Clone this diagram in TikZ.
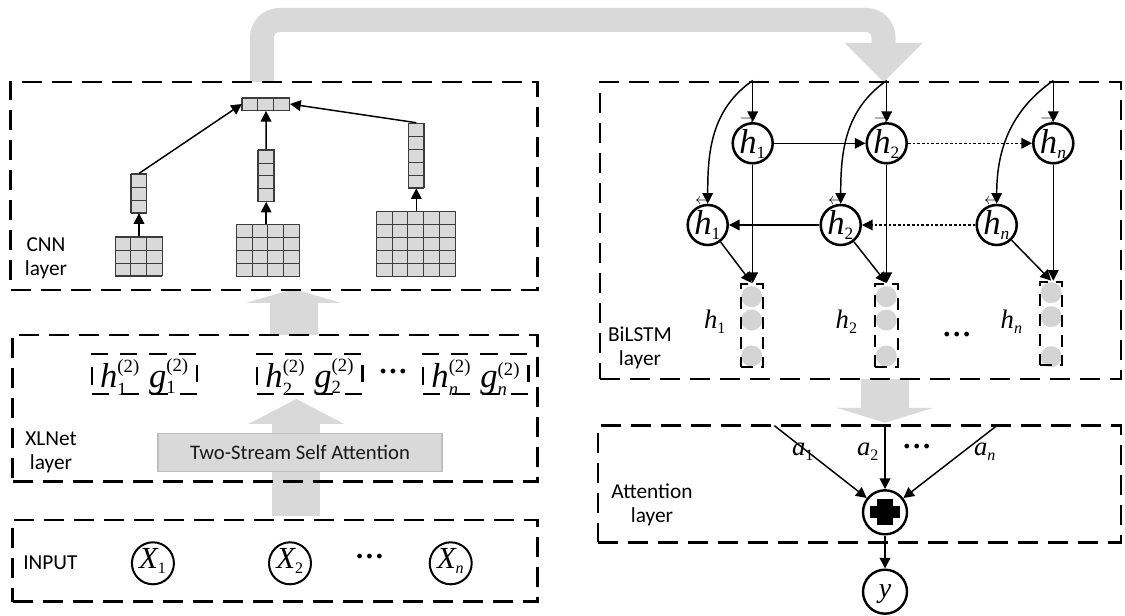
\documentclass[tikz,border=0pt]{standalone}
\usepackage{amsmath}
\usepackage{fontspec}
\setmainfont{Liberation Serif}
\newfontfamily\labfont{Carlito}
\usetikzlibrary{arrows.meta,calc,fit}

\definecolor{bandgray}{RGB}{217,217,217}
\definecolor{cellfill}{RGB}{217,217,217}
\definecolor{celledge}{RGB}{60,60,60}
\definecolor{tsaedge}{RGB}{190,190,190}
\definecolor{dotgray}{RGB}{212,212,212}

% italic variable letter in the serif text face
\newcommand\mvar[1]{\text{\itshape #1}}
% script text at a fixed size
\newcommand\scrsz[2]{\text{\fontsize{#1}{#1}\selectfont #2}}
% zero-size box, lowered by #1, so that a label does not enlarge its node
\newcommand\centred[2]{\raisebox{#1}[0pt][0pt]{\makebox[0pt]{#2}}}
\newcommand\fwdh[1]{\overset{\scriptscriptstyle\rightarrow}{\mvar{h}}_{#1}}
\newcommand\bwdh[1]{\overset{\scriptscriptstyle\leftarrow}{\mvar{h}}_{#1}}

% a block of grey cells: name, centre x, centre y, columns, rows
\newcommand\cellblock[5]{%
  \node[cellbox, minimum width=#4*11.8pt, minimum height=#5*9.7pt] (#1) at (#2,#3) {};
  \draw[celledge, line width=0.7pt, xstep=11.8pt, ystep=9.7pt, shift={(#1.south west)}]
    (0,0) grid (#4*11.8pt+0.1pt, #5*9.7pt+0.1pt);
}
% wide grey arrow: centre x, tail y, head base y, tip y
\newcommand\blockarrow[4]{%
  \fill[bandgray] ({#1-24},#2) rectangle ({#1+24},#3);
  \fill[bandgray] ({#1-48},#3) -- ({#1+48},#3) -- (#1,#4) -- cycle;
}

\begin{document}
\begin{tikzpicture}[x=0.75pt,y=-0.75pt,
  layerbox/.style={draw, line width=2.2pt, dash pattern=on 15pt off 7.5pt, inner sep=0pt},
  hgbox/.style={draw, line width=1.8pt, dash pattern=on 13pt off 9pt, inner sep=0pt,
    minimum width=79pt, minimum height=30pt, font=\fontsize{26pt}{28pt}\selectfont},
  colbox/.style={draw, line width=1.5pt, dash pattern=on 9pt off 6pt, inner sep=0pt},
  cellbox/.style={draw=celledge, fill=cellfill, line width=0.7pt, inner sep=0pt},
  lab/.style={font=\labfont\fontsize{16pt}{18pt}\selectfont, align=center, inner sep=0pt},
  hcirc/.style={circle, draw, line width=1.9pt, minimum size=30pt, inner sep=0pt,
    font=\fontsize{26pt}{28pt}\selectfont},
  xcirc/.style={circle, draw, line width=1.5pt, minimum size=31.5pt, inner sep=0pt,
    font=\fontsize{23pt}{25pt}\selectfont},
  ocirc/.style={circle, draw, line width=1.8pt, minimum size=33pt, inner sep=0pt,
    font=\fontsize{21pt}{23pt}\selectfont},
  dotcirc/.style={circle, fill=dotgray, minimum size=15.75pt, inner sep=0pt},
  mlab/.style={inner sep=0pt, font=\fontsize{20pt}{22pt}\selectfont},
  dots/.style={inner sep=0pt, font=\fontsize{22pt}{24pt}\selectfont\bfseries},
  arr/.style={line width=1.1pt, -{Triangle[length=8pt,width=8pt]}},
  dotarr/.style={arr, line width=1pt, dash pattern=on 2pt off 1.5pt},
  band/.style={draw=bandgray, line width=18pt, rounded corners=13pt},
]
\useasboundingbox (0,0) rectangle (1125,616);

% ---------- grey flow arrows ----------
\coordinate (bandS) at (262,82);
\coordinate (bandT) at (883.5,82);
\draw[band] (bandS) -- (262,20) -- (883.5,20) -- (883.5,50);
\fill[bandgray] (844.5,43) -- (922.5,43) -- (bandT) -- cycle;

\blockarrow{296.3}{516}{424}{399}
\blockarrow{293.5}{335}{303}{289}
\blockarrow{885}{379}{408}{422.7}

% ---------- layer frames ----------
\node[layerbox, fit={(10.7,82) (537.5,290)}] (cnn) {};
\node[layerbox, fit={(12.5,335) (537.5,481.7)}] (xlnet) {};
\node[layerbox, fit={(12.5,520) (537.5,601.7)}] (input) {};
\node[layerbox, fit={(600,82) (1121,379)}] (bilstm) {};
\node[layerbox, fit={(598,425.7) (1121,542.3)}] (attn) {};

\node[lab] (cnnlab) at (46,258) {CNN\\layer};
\node[lab] (xlnetlab) at (51,452.5) {XLNet\\layer};
\node[lab] (inputlab) at (50.4,563) {INPUT};
\node[lab] (bilstmlab) at (640,348) {BiLSTM\\layer};
\node[lab] (attnlab) at (652,505) {Attention\\layer};

% ---------- input tokens ----------
\node[xcirc] (x1) at (152.9,563.3) {\centred{-4pt}{$\mvar{X}_{\scrsz{12pt}{1}}$}};
\node[xcirc] (x2) at (290,563.3) {\centred{-4pt}{$\mvar{X}_{\scrsz{12pt}{2}}$}};
\node[xcirc] (xn) at (450.7,563.3) {\centred{-4pt}{$\mvar{X}_{\scrsz{12pt}{\itshape n}}$}};
\node[dots] (xdots) at (369.6,557) {…};

% ---------- XLNet ----------
\node[draw=tsaedge, fill=bandgray, line width=1pt, minimum width=213pt, minimum height=28.8pt,
  inner sep=0pt, font=\labfont\fontsize{15.5pt}{18pt}\selectfont, text=black!90]
  (tsa) at (300,452.5) {Two-Stream Self Attention};

\node[hgbox] (hg1) at (144.5,374)
  {\centred{-10pt}{$\mvar{h}^{\scrsz{14pt}{(2)}}_{\scrsz{14pt}{1}}\;\mvar{g}^{\scrsz{14pt}{(2)}}_{\scrsz{14pt}{1}}$}};
\node[hgbox] (hg2) at (309.8,374)
  {\centred{-10pt}{$\mvar{h}^{\scrsz{14pt}{(2)}}_{\scrsz{14pt}{2}}\;\mvar{g}^{\scrsz{14pt}{(2)}}_{\scrsz{14pt}{2}}$}};
\node[hgbox] (hg3) at (475.8,374)
  {\centred{-10pt}{$\mvar{h}^{\scrsz{14pt}{(2)}}_{\scrsz{14pt}{\itshape n}}\;\mvar{g}^{\scrsz{14pt}{(2)}}_{\scrsz{14pt}{\itshape n}}$}};
\node[dots] (hgdots) at (393,372) {…};

% ---------- CNN ----------
\cellblock{g1}{139.2}{256.3}{3}{3}
\cellblock{g2}{268.3}{250.2}{4}{4}
\cellblock{g3}{416.2}{243.8}{5}{5}
\cellblock{v1}{139}{193.3}{1}{3}
\cellblock{v2}{266.2}{175.5}{1}{4}
\cellblock{v3}{416.3}{155.5}{1}{5}
\cellblock{pool}{266}{104}{3}{1}

\draw[arr] (v1.south |- g1.north) -- (v1.south);
\draw[arr] (v2.south |- g2.north) -- (v2.south);
\draw[arr] (v3.south |- g3.north) -- (v3.south);
\draw[arr] (v1.north) -- (pool.west);
\draw[arr] (v2.north) -- (pool.south);
\draw[arr] (v3.north) -- (pool.east);

% ---------- BiLSTM ----------
\node[hcirc] (f1) at (752.7,143.3) {\centred{-7.5pt}{$\fwdh{\scrsz{13pt}{1}}$}};
\node[hcirc] (f2) at (886.7,143.3) {\centred{-7.5pt}{$\fwdh{\scrsz{13pt}{2}}$}};
\node[hcirc] (f3) at (1053.3,143.3) {\centred{-7.5pt}{$\fwdh{\scrsz{13pt}{\itshape n}}$}};
\node[hcirc] (b1) at (707.7,225) {\centred{-7.5pt}{$\bwdh{\scrsz{13pt}{1}}$}};
\node[hcirc] (b2) at (840.7,225) {\centred{-7.5pt}{$\bwdh{\scrsz{13pt}{2}}$}};
\node[hcirc] (b3) at (996.7,225) {\centred{-7.5pt}{$\bwdh{\scrsz{13pt}{\itshape n}}$}};

\node[dotcirc] (d1a) at (751.7,296.7) {};
\node[dotcirc] (d1b) at (751.7,320) {};
\node[dotcirc] (d1c) at (751.7,356) {};
\node[colbox, fit={(740.7,284) (762.7,367.3)}] (c1) {};
\node[dotcirc] (d2a) at (886.3,296.7) {};
\node[dotcirc] (d2b) at (886.3,320) {};
\node[dotcirc] (d2c) at (886.3,356) {};
\node[colbox, fit={(875,284) (897.7,367.3)}] (c2) {};
\node[dotcirc] (d3a) at (1051.2,292.7) {};
\node[dotcirc] (d3b) at (1051.2,316.7) {};
\node[dotcirc] (d3c) at (1051.2,356.7) {};
\node[colbox, fit={(1040,281.7) (1062.3,365)}] (c3) {};

\node[mlab, font=\fontsize{20pt}{22pt}\selectfont] (o1) at (715,321.7) {$\mvar{h}_{\scrsz{12pt}{1}}$};
\node[mlab, font=\fontsize{20pt}{22pt}\selectfont] (o2) at (846.7,321.7) {$\mvar{h}_{\scrsz{12pt}{2}}$};
\node[mlab, font=\fontsize{20pt}{22pt}\selectfont] (o3) at (1011.7,321.7) {$\mvar{h}_{\scrsz{12pt}{\itshape n}}$};
\node[dots] (odots) at (956.7,335) {…};

\coordinate (e1) at (f1 |- bilstm.north);
\coordinate (e2) at (f2 |- bilstm.north);
\coordinate (e3) at (f3 |- bilstm.north);

\draw[arr] (e1) -- (f1);
\draw[arr] (e2) -- (f2);
\draw[arr] (e3) -- (f3);
\draw[arr] (e1) to[out=215,in=90] (b1);
\draw[arr] (e2) to[out=215,in=90] (b2);
\draw[arr] (e3) to[out=215,in=90] (b3);

\draw[arr] (f1) -- (f2);
\draw[dotarr] (f2) -- (f3);
\draw[dotarr] (b3) -- (b2);
\draw[arr] (b2) -- (b1);

\draw[arr] (f1) -- (f1 |- c1.north);
\draw[arr] (f2) -- (f2 |- c2.north);
\draw[arr] (f3) -- (f3 |- c3.north);
\draw[arr] (b1) -- (c1.north);
\draw[arr] (b2) -- (c2.north);
\draw[arr] (b3) -- (c3.north);

% ---------- attention ----------
\node[ocirc, path picture={
    \fill (path picture bounding box.center) ++(-6pt,-9.75pt) rectangle ++(12pt,19.5pt);
    \fill (path picture bounding box.center) ++(-10.9pt,-4.5pt) rectangle ++(21.8pt,9pt);}]
  (sum) at (885,512.3) {};
\node[ocirc] (yout) at (885,591.7) {\centred{-4pt}{$\mvar{y}$}};

\coordinate (ta1) at (774.4,425.7);
\coordinate (ta2) at (885,425.7);
\coordinate (ta3) at (996.8,425.7);
\draw[arr] (ta1) -- (sum);
\draw[arr] (ta2) -- (sum);
\draw[arr] (ta3) -- (sum);
\draw[arr] (sum) -- (yout);

\node[mlab] (al1) at (803,451.7) {$\mvar{a}_{\scrsz{12pt}{1}}$};
\node[mlab] (al2) at (868,451.7) {$\mvar{a}_{\scrsz{12pt}{2}}$};
\node[mlab] (al3) at (985,451.7) {$\mvar{a}_{\scrsz{12pt}{\itshape n}}$};
\node[dots] (adots) at (916.8,447) {…};
\end{tikzpicture}
\end{document}
